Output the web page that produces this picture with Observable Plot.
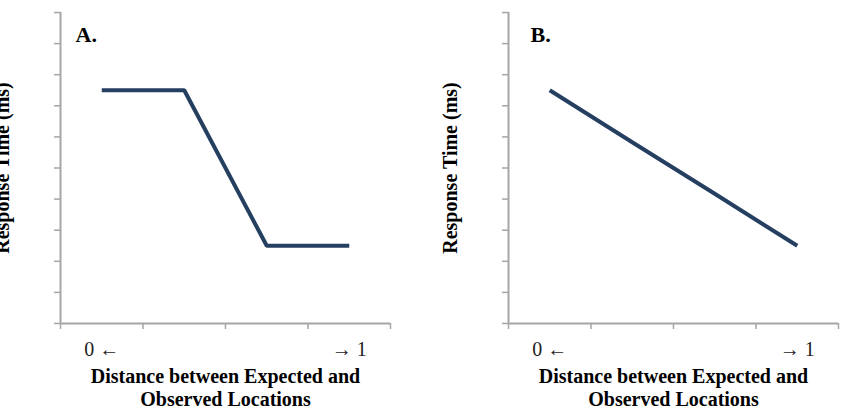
<!DOCTYPE html>
<html>
<head>
<meta charset="utf-8">
<script src="https://cdn.jsdelivr.net/npm/d3@7"></script>
<script src="https://cdn.jsdelivr.net/npm/@observablehq/plot@0.6"></script>
<style>
  html, body { margin: 0; padding: 0; background: #fff; }
  #wrap { display: flex; width: 859px; height: 420px; overflow: hidden; }
  svg { overflow: visible; }
</style>
</head>
<body>
<div id="wrap"></div>
<script>
// Categories along the x axis (tick labels; middle ones unlabeled)
const categories = ["0 ←", "", "", "→ 1"];
// Response time (arbitrary units) for each category
const panelA = [7.5, 7.5, 2.5, 2.5];
const panelB = [7.5, 5.83, 4.17, 2.5];
// Axis ticks
const yTickValues = [0, 1, 2, 3, 4, 5, 6, 7, 8, 9, 10];
const xTickEdges = [0, 1, 2, 3, 4];
const panelLabels = ["A.", "B."];
const yTitle = "Response Time (ms)";
const xTitle = "Distance between Expected and\nObserved Locations";

const FONT = "Liberation Serif, Times New Roman, serif";
const AXIS = "#a6a6a6";
const LINE = "#243f60";

function panel(values, label, width, marginLeft, marginRight) {
  const data = values.map((v, i) => ({i: i + 0.5, v}));
  return Plot.plot({
    width,
    height: 420,
    marginTop: 12,
    marginBottom: 97,
    marginLeft,
    marginRight,
    style: {fontFamily: FONT, background: "white", color: "black", overflow: "visible"},
    x: {domain: [0, 4], axis: null},
    y: {domain: [0, 10], axis: null},
    marks: [
      Plot.axisY({ticks: yTickValues, tickSize: 6, tickFormat: () => "", label: null, stroke: AXIS, strokeWidth: 1.5, strokeOpacity: 1}),
      Plot.axisX({ticks: xTickEdges, tickSize: 6, tickFormat: () => "", label: null, stroke: AXIS, strokeWidth: 1.5, strokeOpacity: 1}),
      Plot.axisX({ticks: categories.map((c, i) => i + 0.5), tickSize: 0, tickPadding: 18, label: null,
        tickFormat: (d) => categories[Math.floor(d)], fontSize: 20, fontFamily: FONT, fill: "#222"}),
      Plot.ruleX([0], {stroke: AXIS, strokeWidth: 2}),
      Plot.ruleY([0], {stroke: AXIS, strokeWidth: 2}),
      Plot.line(data, {x: "i", y: "v", stroke: LINE, strokeWidth: 4, strokeLinejoin: "miter", strokeLinecap: "butt"}),
      Plot.text([label], {frameAnchor: "top-left", text: d => d, dx: label === "A." ? 15 : 22, dy: 22,
        textAnchor: "start", lineAnchor: "middle", fontSize: 22, fontWeight: "bold", fontFamily: FONT}),
      Plot.text([yTitle], {frameAnchor: "left", text: d => d, rotate: -90, dx: -58,
        textAnchor: "middle", lineAnchor: "middle",
        fontSize: 20, fontWeight: "bold", fontFamily: FONT}),
      Plot.text([xTitle], {frameAnchor: "bottom", text: d => d, dy: 43, lineAnchor: "top", lineHeight: 1.15,
        fontSize: 20, fontWeight: "bold", fontFamily: FONT})
    ]
  });
}

const wrap = document.getElementById("wrap");
wrap.appendChild(panel(panelA, panelLabels[0], 430, 60, 40));
wrap.appendChild(panel(panelB, panelLabels[1], 429, 78, 21));
</script>
</body>
</html>
